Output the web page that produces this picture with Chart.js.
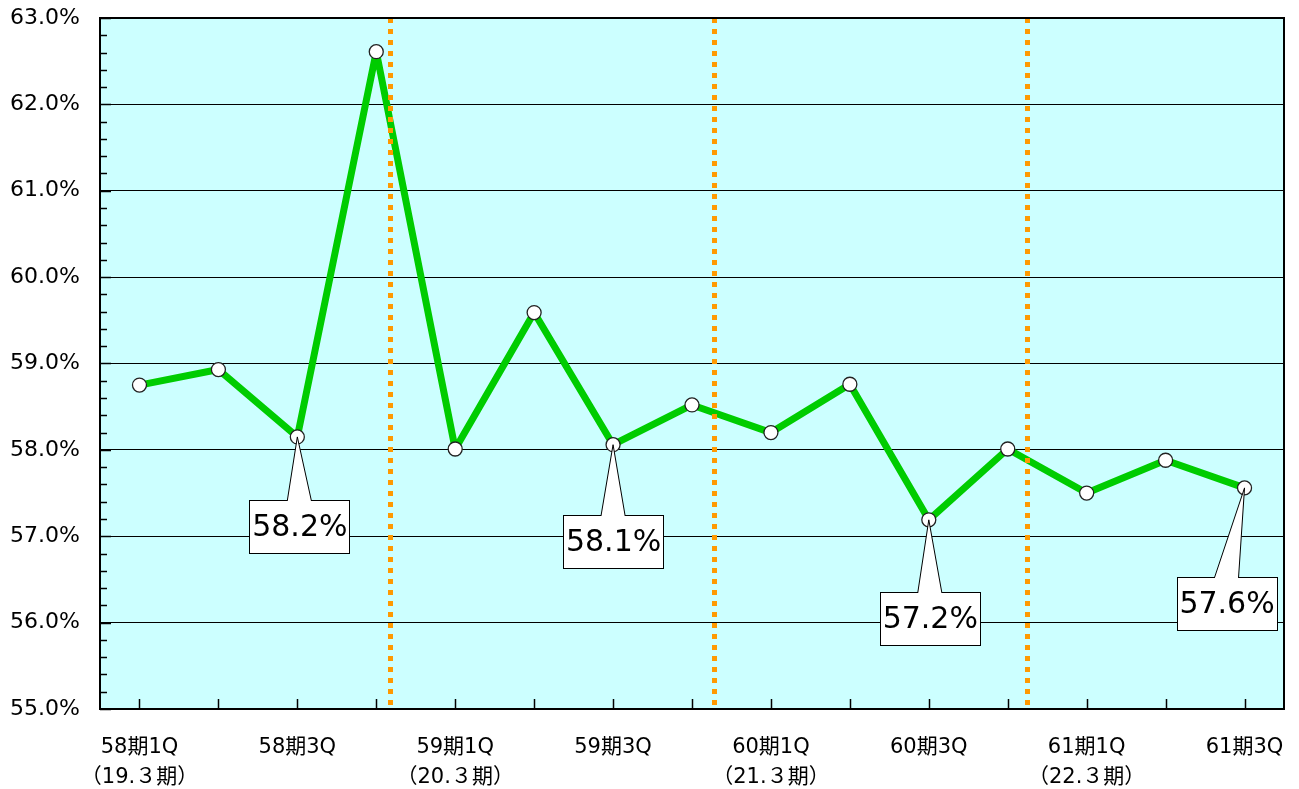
<!DOCTYPE html>
<html>
<head>
<meta charset="utf-8">
<script src="https://cdn.jsdelivr.net/npm/chart.js@4"></script>
<style>
  html, body { margin: 0; padding: 0; background: #fff; }
  #wrap { width: 1299px; height: 789px; position: relative; }
</style>
</head>
<body>
<div id="wrap"><canvas id="myChart"></canvas></div>
<script>
// categories (quarters)
var quarters = ['58期1Q', '58期2Q', '58期3Q', '58期4Q',
                '59期1Q', '59期2Q', '59期3Q', '59期4Q',
                '60期1Q', '60期2Q', '60期3Q', '60期4Q',
                '61期1Q', '61期2Q', '61期3Q'];
// second label line under each 1Q
var fiscalYears = ['（19.３期）', '（20.３期）', '（21.３期）', '（22.３期）'];
// ratio values (%)
var ratios = [58.75, 58.93, 58.15, 62.61, 58.01, 59.59, 58.06, 58.52,
              58.20, 58.76, 57.19, 58.01, 57.50, 57.88, 57.56];
// callouts: index of point and text
var calloutIndex = [2, 6, 10, 14];
var calloutText = ['58.2%', '58.1%', '57.2%', '57.6%'];
// year dividers, in category units
var dividers = [3.17, 7.28, 11.24];
// y axis range
var yMin = 55, yMax = 63;

var fontFamily = '"DejaVu Sans", Verdana, "Noto Sans CJK JP", sans-serif';

var chartDeco = {
    id: 'chartDeco',
    beforeDraw: function (chart) {
        var ctx = chart.ctx, a = chart.chartArea;
        ctx.save();
        ctx.fillStyle = '#ccffff';
        ctx.fillRect(a.left, a.top, a.right - a.left, a.bottom - a.top);
        ctx.restore();
    },
    afterDatasetsDraw: function (chart) {
        var ctx = chart.ctx, a = chart.chartArea;
        var x = chart.scales.x, y = chart.scales.y;
        ctx.save();
        // dividers
        ctx.strokeStyle = '#ff9900';
        ctx.lineWidth = 5;
        ctx.setLineDash([5, 6]);
        dividers.forEach(function (d) {
            var px = Math.round(x.getPixelForValue(d)) + 0.5;
            ctx.beginPath();
            ctx.moveTo(px, a.top);
            ctx.lineTo(px, a.bottom);
            ctx.stroke();
        });
        ctx.setLineDash([]);

        // callouts
        var offs = [[2, 63], [0, 70], [1, 72], [-18, 89]];
        ctx.font = '30px ' + fontFamily;
        ctx.textAlign = 'center';
        ctx.textBaseline = 'middle';
        calloutIndex.forEach(function (idx, i) {
            var px = x.getPixelForValue(idx), py = y.getPixelForValue(ratios[idx]);
            var cx = px + offs[i][0], top = py + offs[i][1];
            var w = 100, h = 53;
            var l = Math.round(cx - w / 2) + 0.5, t = Math.round(top) + 0.5;
            ctx.fillStyle = '#ffffff';
            ctx.strokeStyle = '#000000';
            ctx.lineWidth = 1;
            // tail
            var b1 = cx - 12, b2 = cx + 12;
            ctx.beginPath();
            ctx.moveTo(b1, t);
            ctx.lineTo(px, py);
            ctx.lineTo(b2, t);
            ctx.closePath();
            ctx.fill();
            ctx.stroke();
            ctx.fillRect(l, t, w, h);
            ctx.strokeRect(l, t, w, h);
            // cover the tail base
            ctx.fillRect(b1 + 0.5, t - 0.5, b2 - b1 - 1, 2);
            ctx.fillStyle = '#000000';
            ctx.fillText(calloutText[i], cx + 0.5, t + h / 2 + 1);
        });

        // inner tick marks
        ctx.strokeStyle = '#000000';
        ctx.lineWidth = 1.5;
        for (var v = yMin; v <= yMax + 0.001; v += 0.2) {
            var py2 = Math.round(y.getPixelForValue(v)) + 0.5;
            var major = Math.abs(v - Math.round(v)) < 0.01;
            ctx.beginPath();
            ctx.moveTo(a.left, py2);
            ctx.lineTo(a.left + (major ? 11 : 7), py2);
            ctx.stroke();
        }
        quarters.forEach(function (q, i) {
            var px2 = Math.round(x.getPixelForValue(i)) + 0.5;
            ctx.beginPath();
            ctx.moveTo(px2, a.bottom);
            ctx.lineTo(px2, a.bottom - 10);
            ctx.stroke();
        });

        // frame
        ctx.lineWidth = 2;
        ctx.strokeRect(a.left, a.top, a.right - a.left, a.bottom - a.top);
        ctx.restore();
    }
};

var ctx = document.getElementById('myChart').getContext('2d');
var chart = new Chart(ctx, {
    type: 'line',
    data: {
        labels: quarters,
        datasets: [{
            label: '比率',
            data: ratios,
            borderColor: '#00cc00',
            borderWidth: 7,
            borderJoinStyle: 'round',
            tension: 0,
            fill: false,
            pointRadius: 7,
            pointBackgroundColor: '#ffffff',
            pointBorderColor: '#222222',
            pointBorderWidth: 1.3
        }]
    },
    options: {
        responsive: true,
        maintainAspectRatio: false,
        animation: false,
        events: [],
        layout: { padding: { top: 18, right: 15, left: 0, bottom: 0 } },
        plugins: {
            legend: { display: false },
            tooltip: { enabled: false }
        },
        scales: {
            x: {
                offset: true,
                grid: { display: false, drawTicks: false },
                border: { display: false },
                afterFit: function (s) {
                    s.height = 80;
                    s.paddingLeft = 0;
                    s.paddingRight = 0;
                },
                ticks: {
                    autoSkip: false,
                    maxRotation: 0,
                    padding: 23,
                    color: '#000',
                    font: { family: fontFamily, size: 21, lineHeight: 1.45 },
                    callback: function (val, i) {
                        if (i % 2 === 1) return '';
                        if (i % 4 === 0) return [quarters[i], fiscalYears[i / 4]];
                        return quarters[i];
                    }
                }
            },
            y: {
                min: yMin,
                max: yMax,
                grid: { color: '#000000', lineWidth: 1, drawTicks: false },
                border: { display: false },
                afterFit: function (s) {
                    s.width = 100;
                    s.paddingTop = 0;
                    s.paddingBottom = 0;
                },
                ticks: {
                    stepSize: 1,
                    padding: 20,
                    color: '#000',
                    font: { family: fontFamily, size: 22 },
                    callback: function (v) { return v.toFixed(1) + '%'; }
                }
            }
        }
    },
    plugins: [chartDeco]
});
</script>
</body>
</html>
